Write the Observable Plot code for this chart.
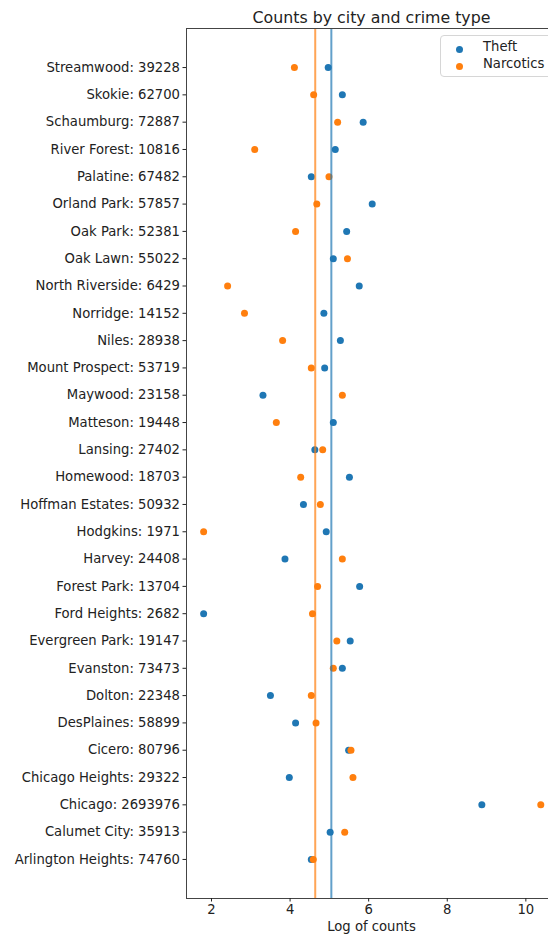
<!DOCTYPE html>
<html>
<head>
<meta charset="utf-8">
<script src="https://cdn.jsdelivr.net/npm/d3@7"></script>
<script src="https://cdn.jsdelivr.net/npm/@observablehq/plot@0.6"></script>
<style>
  html, body { margin: 0; padding: 0; background: white; overflow: hidden; }
  #wrap { position: relative; width: 548px; height: 936px; overflow: hidden; font-family: "DejaVu Sans", sans-serif; }
  #wrap svg { max-width: none !important; display: block; }
  #legend { position: absolute; left: 440px; top: 35px; width: 140px; height: 42px; border: 1px solid #d6d6d6; border-radius: 4px; background: rgba(255,255,255,0.8); box-sizing: border-box; }
  #legend .m { position: absolute; width: 7px; height: 7px; border-radius: 50%; }
  #legend .t { position: absolute; font-size: 13.2px; color: #222; white-space: nowrap; line-height: normal; }
</style>
</head>
<body>
<div id="wrap"></div>
<script>
const cities = ["Streamwood","Skokie","Schaumburg","River Forest","Palatine","Orland Park","Oak Park","Oak Lawn","North Riverside","Norridge","Niles","Mount Prospect","Maywood","Matteson","Lansing","Homewood","Hoffman Estates","Hodgkins","Harvey","Forest Park","Ford Heights","Evergreen Park","Evanston","Dolton","DesPlaines","Cicero","Chicago Heights","Chicago","Calumet City","Arlington Heights"];
const totals = [39228,62700,72887,10816,67482,57857,52381,55022,6429,14152,28938,53719,23158,19448,27402,18703,50932,1971,24408,13704,2682,19147,73473,22348,58899,80796,29322,2693976,35913,74760];
const theft = [4.97,5.33,5.86,5.15,4.54,6.09,5.44,5.10,5.76,4.86,5.28,4.88,3.31,5.10,4.63,5.51,4.34,4.92,3.87,5.77,1.80,5.53,5.33,3.50,4.14,5.49,3.98,8.88,5.02,4.54];
const narcotics = [4.11,4.60,5.21,3.10,4.99,4.68,4.14,5.46,2.41,2.84,3.81,4.54,5.33,3.65,4.83,4.27,4.77,1.80,5.33,4.70,4.57,5.19,5.10,4.54,4.66,5.55,5.60,10.38,5.39,4.59];
const referenceLines = [5.05, 4.64]; // Theft, Narcotics
const seriesNames = ["Theft", "Narcotics"];
const colors = ["#1f77b4", "#ff7f0e"];
const xTicks = [2, 4, 6, 8, 10];

const labels = cities.map((c, i) => `${c}: ${totals[i]}`);
const theftRows = labels.map((l, i) => ({label: l, value: theft[i]}));
const narcRows = labels.map((l, i) => ({label: l, value: narcotics[i]}));

const chart = Plot.plot({
  width: 560,
  height: 936,
  marginLeft: 186,
  marginRight: 4,
  marginTop: 28,
  marginBottom: 38,
  style: {fontFamily: "DejaVu Sans", fontSize: "13.2px", color: "#222", background: "white", maxWidth: "none"},
  x: {domain: [1.364, 10.78]},
  y: {type: "point", domain: labels, padding: 1.43, round: false},
  marks: [
    Plot.dot(theftRows, {x: "value", y: "label", r: 3.5, fill: colors[0], stroke: null}),
    Plot.dot(narcRows, {x: "value", y: "label", r: 3.5, fill: colors[1], stroke: null}),
    Plot.ruleX([referenceLines[0]], {stroke: colors[0], strokeOpacity: 0.7, strokeWidth: 2}),
    Plot.ruleX([referenceLines[1]], {stroke: colors[1], strokeOpacity: 0.7, strokeWidth: 2}),
    Plot.frame({stroke: "#444", strokeWidth: 1}),
    Plot.axisX({ticks: xTicks, tickSize: 3.5, tickPadding: 3, label: "Log of counts", labelAnchor: "center", labelArrow: "none", labelOffset: 32}),
    Plot.axisY({tickSize: 3.5, tickPadding: 3, label: null}),
    Plot.text(["Counts by city and crime type"], {frameAnchor: "top", dy: -17, fontSize: 15.8, fill: "#222"})
  ]
});

const wrap = document.getElementById("wrap");
wrap.appendChild(chart);

const legend = document.createElement("div");
legend.id = "legend";
const rows = [{m: 9.5, t: 2.5}, {m: 27, t: 20}];
seriesNames.forEach((name, i) => {
  const m = document.createElement("div");
  m.className = "m";
  m.style.background = colors[i];
  m.style.left = "14.5px";
  m.style.top = rows[i].m + "px";
  legend.appendChild(m);
  const t = document.createElement("div");
  t.className = "t";
  t.textContent = name;
  t.style.left = "42px";
  t.style.top = rows[i].t + "px";
  legend.appendChild(t);
});
wrap.appendChild(legend);
</script>
</body>
</html>
